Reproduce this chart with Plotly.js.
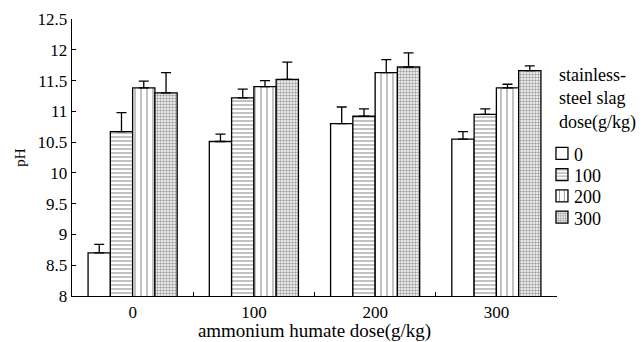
<!DOCTYPE html>
<html>
<head>
<meta charset="utf-8">
<script src="https://cdn.plot.ly/plotly-3.0.1.min.js"></script>
<style>html,body{margin:0;padding:0;background:#fff;}#chart{width:644px;height:342px;}</style>
</head>
<body>
<div id="chart"></div>
<script>
var categories = ["0", "100", "200", "300"];
var seriesNames = ["0", "100", "200", "300"];
var ph0   = [8.70, 10.51, 10.80, 10.55];
var ph100 = [10.67, 11.22, 10.92, 10.95];
var ph200 = [11.38, 11.40, 11.63, 11.38];
var ph300 = [11.30, 11.52, 11.72, 11.66];
var err0   = [0.14, 0.12, 0.27, 0.12];
var err100 = [0.31, 0.14, 0.12, 0.09];
var err200 = [0.11, 0.10, 0.21, 0.06];
var err300 = [0.33, 0.28, 0.23, 0.08];
var yTicks = [8, 8.5, 9, 9.5, 10, 10.5, 11, 11.5, 12, 12.5];
var legendTitle = "stainless-<br>steel slag<br>dose(g/kg)";

var values = [ph0, ph100, ph200, ph300];
var errs = [err0, err100, err200, err300];
var patterns = [
  {shape: ""},
  {shape: "-", size: 4, solidity: 0.3, fgcolor: "#9a9a9a", bgcolor: "#ffffff", fillmode: "replace"},
  {shape: "|", size: 6, solidity: 0.2, fgcolor: "#9a9a9a", bgcolor: "#ffffff", fillmode: "replace"},
  {shape: ".", size: 3, solidity: 0.5, fgcolor: "#a0a0a0", bgcolor: "#ffffff", fillmode: "replace"}
];
var font = "Liberation Serif";

var traces = values.map(function (v, i) {
  return {
    type: "bar",
    name: " ",
    legendgroup: seriesNames[i],
    x: categories,
    y: v,
    marker: {color: "#ffffff", line: {color: "#000", width: 1.3}, pattern: patterns[i]},
    error_y: {type: "data", symmetric: false, array: errs[i], arrayminus: v.map(function(){return 0;}),
              color: "#000", thickness: 1.3, width: 5}
  };
});

// legend labels drawn as annotations next to the legend swatches
var legendLabelY = [0.509, 0.432, 0.356, 0.279];
var annotations = [{
  text: legendTitle, showarrow: false,
  xref: "paper", yref: "paper", x: 1.0, xanchor: "left", y: 0.84, yanchor: "top",
  align: "left", font: {family: font, size: 18, color: "#000"}
}];
seriesNames.forEach(function (n, i) {
  annotations.push({
    text: n, showarrow: false, xref: "paper", yref: "paper",
    x: 1.031, xanchor: "left", y: legendLabelY[i], yanchor: "middle",
    font: {family: font, size: 18, color: "#000"}
  });
});

var layout = {
  width: 644, height: 342,
  margin: {l: 72, r: 87, t: 19, b: 46},
  paper_bgcolor: "#fff", plot_bgcolor: "#fff",
  font: {family: font, color: "#000", size: 17},
  barmode: "group",
  bargap: 0.265,
  bargroupgap: 0,
  showlegend: true,
  legend: {x: 0.969, xanchor: "left", y: 0.571, yanchor: "top", bgcolor: "rgba(0,0,0,0)",
           font: {family: font, size: 14, color: "#000"}, itemwidth: 30, tracegroupgap: 0, traceorder: "normal"},
  annotations: annotations,
  xaxis: {
    type: "category", range: [-0.5, 3.5],
    showline: true, linecolor: "#000", linewidth: 1.3,
    ticks: "inside", tickson: "boundaries", ticklen: 4, tickcolor: "#000", tickwidth: 1.2,
    showgrid: false, zeroline: false,
    tickfont: {family: font, size: 17},
    title: {text: "ammonium humate dose(g/kg)", font: {family: font, size: 19}, standoff: 2}
  },
  yaxis: {
    range: [8, 12.5], tickvals: yTicks, ticktext: yTicks.map(String),
    showline: true, linecolor: "#000", linewidth: 1.3,
    ticks: "inside", ticklen: 4, tickcolor: "#000", tickwidth: 1.2,
    showgrid: false, zeroline: false,
    tickfont: {family: font, size: 17},
    title: {text: "pH", font: {family: font, size: 15}, standoff: 8}
  }
};

Plotly.newPlot("chart", traces, layout, {displayModeBar: false, staticPlot: true});
</script>
</body>
</html>
